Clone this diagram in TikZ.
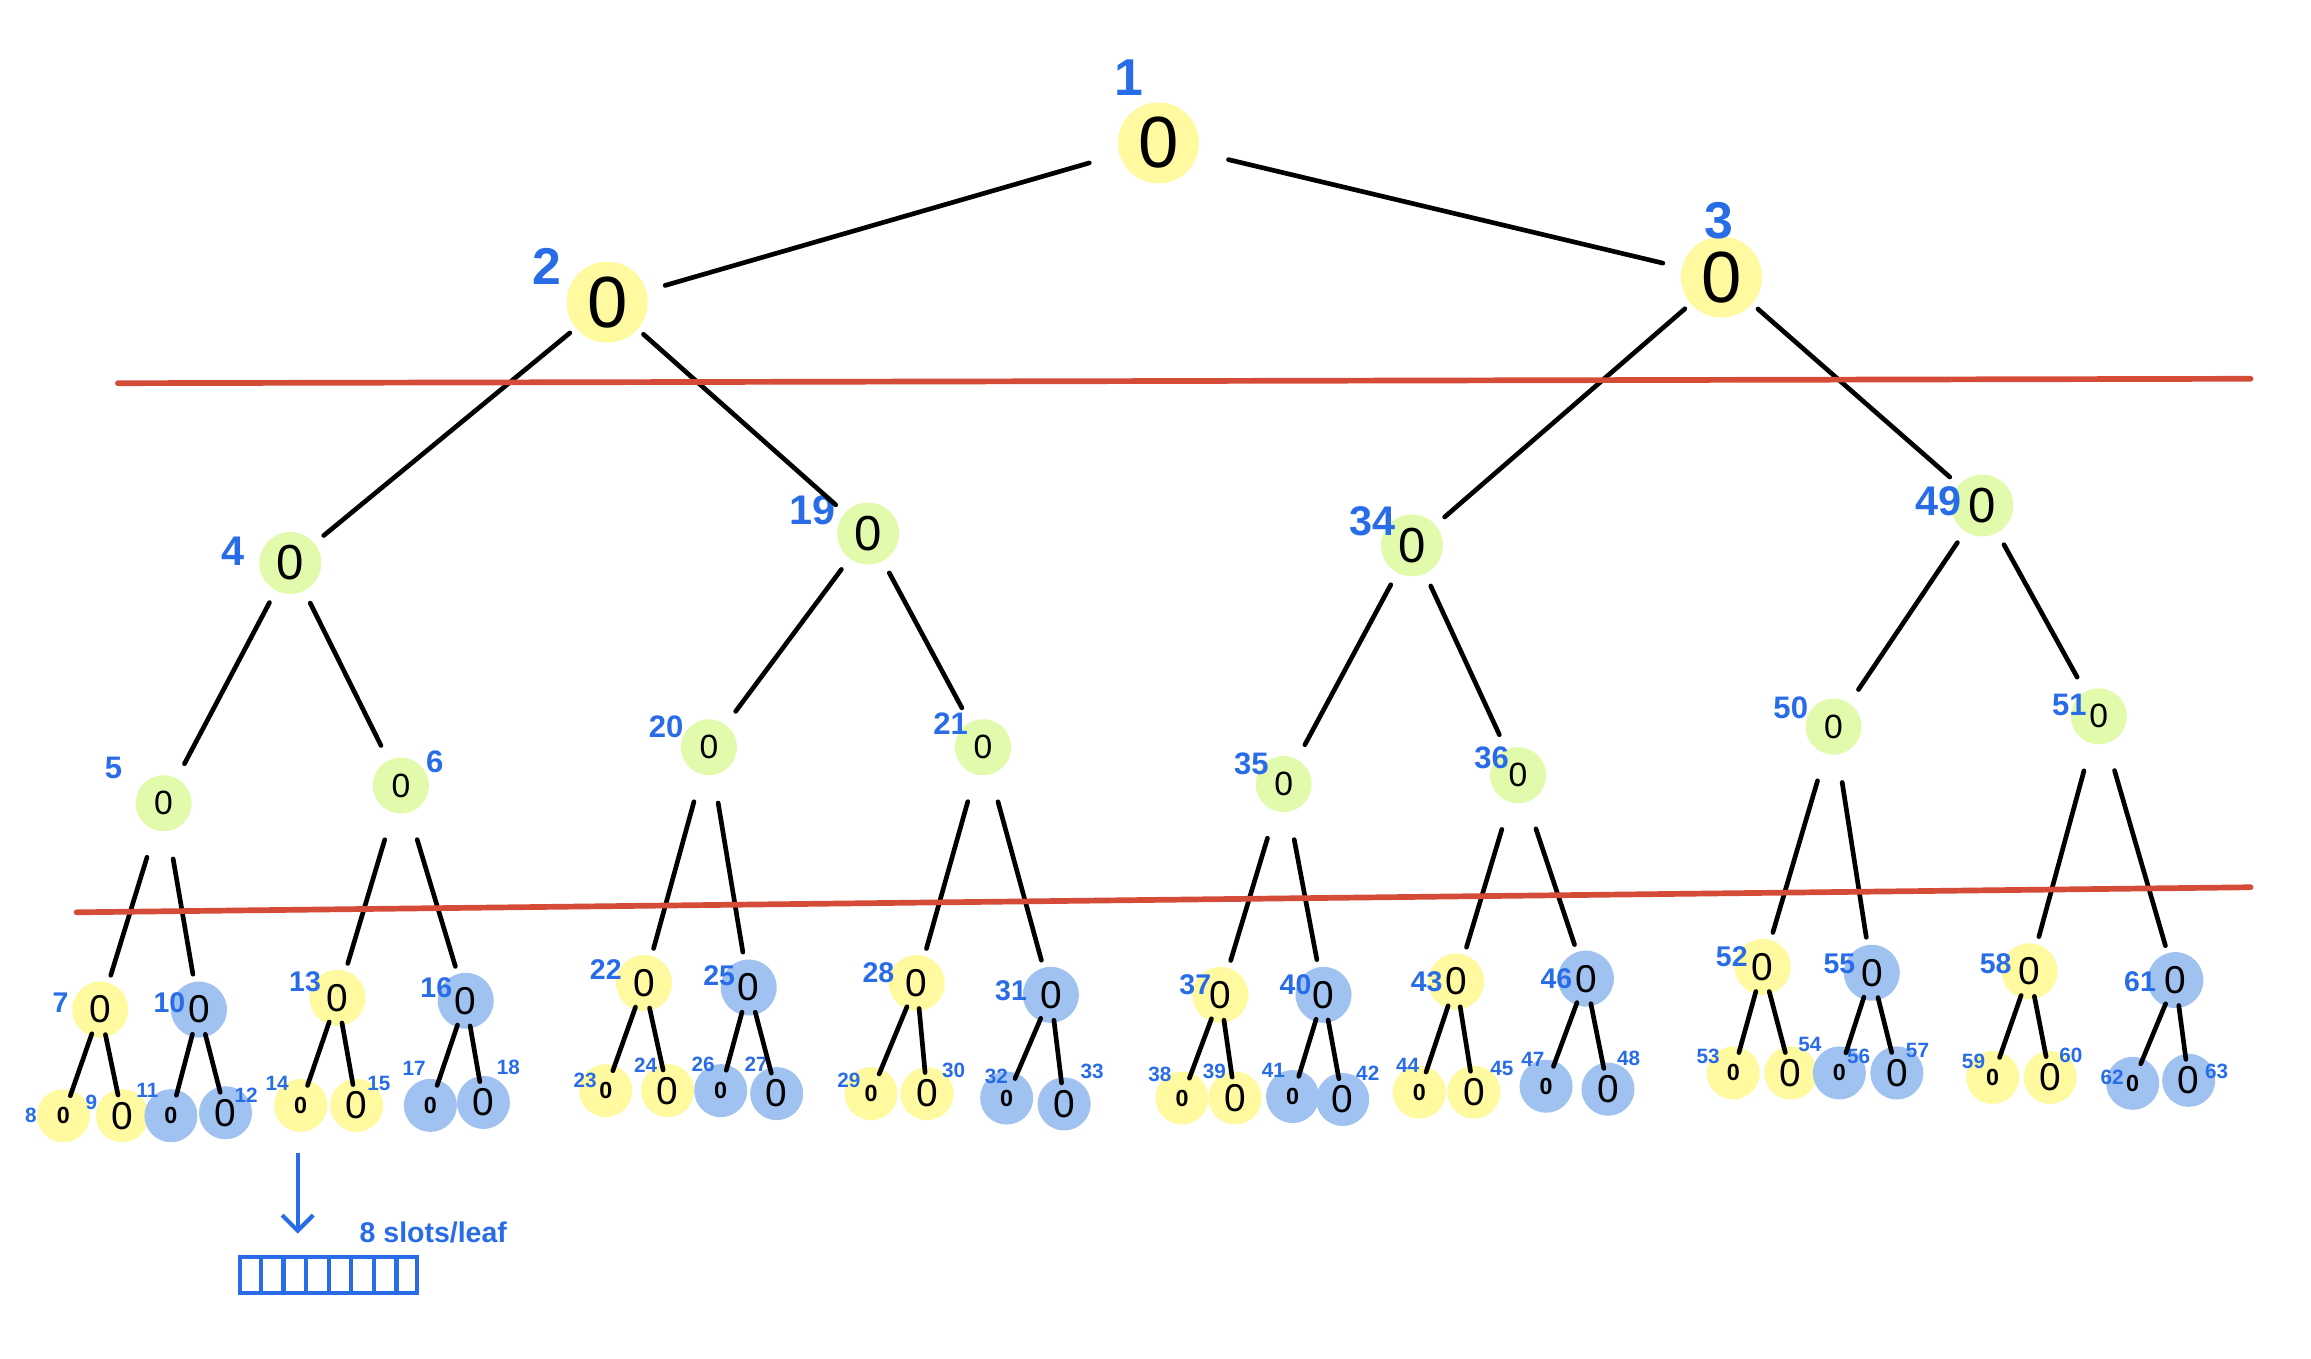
\documentclass[tikz,border=0pt]{standalone}
\usepackage{fontspec}
\setmainfont{Liberation Sans}
\usepackage{xcolor}
\definecolor{hlyellow}{RGB}{255,250,160}
\definecolor{hlgreen}{RGB}{226,250,172}
\definecolor{hlblue}{RGB}{160,194,240}
\definecolor{numblue}{RGB}{40,108,232}
\definecolor{cutred}{RGB}{212,76,56}
\usepackage{tikz}
\usetikzlibrary{arrows.meta, calc}

\begin{document}
\begin{tikzpicture}[x=0.02cm, y=-0.02cm,
  rootnode/.style={circle, fill=hlyellow, minimum size=1.1cm, inner sep=0pt, font=\fontsize{28}{28}\selectfont},
  midnode/.style={circle, fill=hlgreen, minimum size=0.84cm, inner sep=0pt, font=\fontsize{19}{19}\selectfont},
  lownode/.style={circle, fill=hlgreen, minimum size=0.76cm, inner sep=0pt, font=\fontsize{13}{13}\selectfont},
  subnode/.style={circle, minimum size=0.76cm, inner sep=0pt, font=\fontsize{15}{15}\selectfont},
  leafnode/.style={circle, minimum size=0.72cm, inner sep=0pt, font=\fontsize{15}{15}\selectfont},
  leafsmall/.style={leafnode, font=\fontsize{9}{9}\selectfont\bfseries},
  numbig/.style={text=numblue, font=\fontsize{20}{20}\selectfont\bfseries},
  nummid/.style={text=numblue, font=\fontsize{16}{16}\selectfont\bfseries},
  numlow/.style={text=numblue, font=\fontsize{12}{12}\selectfont\bfseries},
  numsub/.style={text=numblue, font=\fontsize{11}{11}\selectfont\bfseries},
  numleaf/.style={text=numblue, font=\fontsize{8}{8}\selectfont\bfseries},
  link/.style={line width=1.8pt, line cap=round},
  linkA/.style={link, shorten <=0.42cm, shorten >=0.26cm},
  linkB/.style={link, shorten <=0.1cm, shorten >=0.16cm},
  linkC/.style={link, shorten <=0.18cm, shorten >=0.22cm},
  linkD/.style={link, shorten <=0.38cm, shorten >=0.1cm},
  linkE/.style={link, shorten <=-0.04cm, shorten >=-0.08cm},
  cut/.style={draw=cutred, line width=2.2pt, line cap=round},
  slotpen/.style={draw=numblue, line width=1.6pt}
]
\useasboundingbox (0,0) rectangle (1568,922);

% Root and first split
\node[rootnode] (n1) at (786,97) {0};  \node[numbig] (t1) at (766,53) {1};
\node[rootnode] (n2) at (412,205) {0}; \node[numbig] (t2) at (371,181) {2};
\node[rootnode] (n3) at (1168,188) {0}; \node[numbig] (t3) at (1166,150) {3};

% Second level
\node[midnode] (n4) at (197,382) {0};  \node[nummid] (t4) at (158,374) {4};
\node[midnode] (n19) at (589,362) {0}; \node[nummid] (t19) at (551,346) {19};
\node[midnode] (n34) at (958,370) {0}; \node[nummid] (t34) at (931,354) {34};
\node[midnode] (n49) at (1345,343) {0}; \node[nummid] (t49) at (1315,340) {49};

% Third level
\node[lownode] (n5) at (111,545) {0};  \node[numlow] (t5) at (77,521) {5};
\node[lownode] (n6) at (272,533) {0};  \node[numlow] (t6) at (295,517) {6};
\node[lownode] (n20) at (481,507) {0}; \node[numlow] (t20) at (452,493) {20};
\node[lownode] (n21) at (667,507) {0}; \node[numlow] (t21) at (645,491) {21};
\node[lownode] (n35) at (871,532) {0}; \node[numlow] (t35) at (849,518) {35};
\node[lownode] (n36) at (1030,526) {0}; \node[numlow] (t36) at (1012,514) {36};
\node[lownode] (n50) at (1244,493) {0}; \node[numlow] (t50) at (1215,480) {50};
\node[lownode] (n51) at (1424,486) {0}; \node[numlow] (t51) at (1404,478) {51};

% Fourth level
\node[subnode, fill=hlyellow] (n7) at (68,685) {0};   \node[numsub] (t7) at (41,680) {7};
\node[subnode, fill=hlblue] (n10) at (135,685) {0};   \node[numsub] (t10) at (115,680) {10};
\node[subnode, fill=hlyellow] (n13) at (229,677) {0}; \node[numsub] (t13) at (207,666) {13};
\node[subnode, fill=hlblue] (n16) at (316,679) {0};   \node[numsub] (t16) at (296,670) {16};
\node[subnode, fill=hlyellow] (n22) at (437,667) {0}; \node[numsub] (t22) at (411,658) {22};
\node[subnode, fill=hlblue] (n25) at (508,670) {0};   \node[numsub] (t25) at (488,662) {25};
\node[subnode, fill=hlyellow] (n28) at (622,667) {0}; \node[numsub] (t28) at (596,660) {28};
\node[subnode, fill=hlblue] (n31) at (713,675) {0};   \node[numsub] (t31) at (686,672) {31};
\node[subnode, fill=hlyellow] (n37) at (828,675) {0}; \node[numsub] (t37) at (811,668) {37};
\node[subnode, fill=hlblue] (n40) at (898,675) {0};   \node[numsub] (t40) at (879,668) {40};
\node[subnode, fill=hlyellow] (n43) at (988,666) {0}; \node[numsub] (t43) at (968,666) {43};
\node[subnode, fill=hlblue] (n46) at (1076,664) {0};  \node[numsub] (t46) at (1056,664) {46};
\node[subnode, fill=hlyellow] (n52) at (1196,656) {0}; \node[numsub] (t52) at (1175,649) {52};
\node[subnode, fill=hlblue] (n55) at (1270,660) {0};  \node[numsub] (t55) at (1248,654) {55};
\node[subnode, fill=hlyellow] (n58) at (1377,659) {0}; \node[numsub] (t58) at (1354,654) {58};
\node[subnode, fill=hlblue] (n61) at (1476,665) {0};  \node[numsub] (t61) at (1452,666) {61};

% Leaves
\node[leafsmall, fill=hlyellow] (n8) at (43,757) {0};  \node[numleaf] (t8) at (21,757) {8};
\node[leafnode, fill=hlyellow] (n9) at (83,757) {0};   \node[numleaf] (t9) at (62,748) {9};
\node[leafsmall, fill=hlblue] (n11) at (116,757) {0};  \node[numleaf] (t11) at (100,740) {11};
\node[leafnode, fill=hlblue] (n12) at (153,755) {0};   \node[numleaf] (t12) at (167,743) {12};
\node[leafsmall, fill=hlyellow] (n14) at (204,750) {0}; \node[numleaf] (t14) at (188,735) {14};
\node[leafnode, fill=hlyellow] (n15) at (242,750) {0}; \node[numleaf] (t15) at (257,735) {15};
\node[leafsmall, fill=hlblue] (n17) at (292,750) {0};  \node[numleaf] (t17) at (281,725) {17};
\node[leafnode, fill=hlblue] (n18) at (328,748) {0};   \node[numleaf] (t18) at (345,724) {18};
\node[leafsmall, fill=hlyellow] (n23) at (411,740) {0}; \node[numleaf] (t23) at (397,733) {23};
\node[leafnode, fill=hlyellow] (n24) at (453,740) {0}; \node[numleaf] (t24) at (438,723) {24};
\node[leafsmall, fill=hlblue] (n26) at (489,740) {0};  \node[numleaf] (t26) at (477,722) {26};
\node[leafnode, fill=hlblue] (n27) at (527,742) {0};   \node[numleaf] (t27) at (513,722) {27};
\node[leafsmall, fill=hlyellow] (n29) at (591,742) {0}; \node[numleaf] (t29) at (576,733) {29};
\node[leafnode, fill=hlyellow] (n30) at (629,742) {0}; \node[numleaf] (t30) at (647,726) {30};
\node[leafsmall, fill=hlblue] (n32) at (683,745) {0};  \node[numleaf] (t32) at (676,730) {32};
\node[leafnode, fill=hlblue] (n33) at (722,749) {0};   \node[numleaf] (t33) at (741,727) {33};
\node[leafsmall, fill=hlyellow] (n38) at (802,745) {0}; \node[numleaf] (t38) at (787,729) {38};
\node[leafnode, fill=hlyellow] (n39) at (838,745) {0}; \node[numleaf] (t39) at (824,727) {39};
\node[leafsmall, fill=hlblue] (n41) at (877,744) {0};  \node[numleaf] (t41) at (864,726) {41};
\node[leafnode, fill=hlblue] (n42) at (911,746) {0};   \node[numleaf] (t42) at (928,728) {42};
\node[leafsmall, fill=hlyellow] (n44) at (963,741) {0}; \node[numleaf] (t44) at (955,723) {44};
\node[leafnode, fill=hlyellow] (n45) at (1000,741) {0}; \node[numleaf] (t45) at (1019,725) {45};
\node[leafsmall, fill=hlblue] (n47) at (1049,737) {0}; \node[numleaf] (t47) at (1040,719) {47};
\node[leafnode, fill=hlblue] (n48) at (1091,739) {0};  \node[numleaf] (t48) at (1105,718) {48};
\node[leafsmall, fill=hlyellow] (n53) at (1176,728) {0}; \node[numleaf] (t53) at (1159,717) {53};
\node[leafnode, fill=hlyellow] (n54) at (1215,728) {0}; \node[numleaf] (t54) at (1228,709) {54};
\node[leafsmall, fill=hlblue] (n56) at (1248,728) {0}; \node[numleaf] (t56) at (1261,717) {56};
\node[leafnode, fill=hlblue] (n57) at (1287,728) {0};  \node[numleaf] (t57) at (1301,713) {57};
\node[leafsmall, fill=hlyellow] (n59) at (1352,731) {0}; \node[numleaf] (t59) at (1339,720) {59};
\node[leafnode, fill=hlyellow] (n60) at (1391,731) {0}; \node[numleaf] (t60) at (1405,716) {60};
\node[leafsmall, fill=hlblue] (n62) at (1447,735) {0}; \node[numleaf] (t62) at (1433,731) {62};
\node[leafnode, fill=hlblue] (n63) at (1485,733) {0};  \node[numleaf] (t63) at (1504,727) {63};

% Edges
\draw[linkA] (n1) -- (n2);  \draw[linkA] (n1) -- (n3);
\draw[linkB] (n2) -- (n4);  \draw[linkB] (n2) -- (n19);
\draw[linkB] (n3) -- (n34); \draw[linkB] (n3) -- (n49);
\draw[linkC] (n4) -- (n5);  \draw[linkC] (n4) -- (n6);
\draw[linkC] (n19) -- (n20); \draw[linkC] (n19) -- (n21);
\draw[linkC] (n34) -- (n35); \draw[linkC] (n34) -- (n36);
\draw[linkC] (n49) -- (n50); \draw[linkC] (n49) -- (n51);
\draw[linkD] (n5) -- (n7);  \draw[linkD] (n5) -- (n10);
\draw[linkD] (n6) -- (n13); \draw[linkD] (n6) -- (n16);
\draw[linkD] (n20) -- (n22); \draw[linkD] (n20) -- (n25);
\draw[linkD] (n21) -- (n28); \draw[linkD] (n21) -- (n31);
\draw[linkD] (n35) -- (n37); \draw[linkD] (n35) -- (n40);
\draw[linkD] (n36) -- (n43); \draw[linkD] (n36) -- (n46);
\draw[linkD] (n50) -- (n52); \draw[linkD] (n50) -- (n55);
\draw[linkD] (n51) -- (n58); \draw[linkD] (n51) -- (n61);
\draw[linkE] (n7) -- (n8);   \draw[linkE] (n7) -- (n9);
\draw[linkE] (n10) -- (n11); \draw[linkE] (n10) -- (n12);
\draw[linkE] (n13) -- (n14); \draw[linkE] (n13) -- (n15);
\draw[linkE] (n16) -- (n17); \draw[linkE] (n16) -- (n18);
\draw[linkE] (n22) -- (n23); \draw[linkE] (n22) -- (n24);
\draw[linkE] (n25) -- (n26); \draw[linkE] (n25) -- (n27);
\draw[linkE] (n28) -- (n29); \draw[linkE] (n28) -- (n30);
\draw[linkE] (n31) -- (n32); \draw[linkE] (n31) -- (n33);
\draw[linkE] (n37) -- (n38); \draw[linkE] (n37) -- (n39);
\draw[linkE] (n40) -- (n41); \draw[linkE] (n40) -- (n42);
\draw[linkE] (n43) -- (n44); \draw[linkE] (n43) -- (n45);
\draw[linkE] (n46) -- (n47); \draw[linkE] (n46) -- (n48);
\draw[linkE] (n52) -- (n53); \draw[linkE] (n52) -- (n54);
\draw[linkE] (n55) -- (n56); \draw[linkE] (n55) -- (n57);
\draw[linkE] (n58) -- (n59); \draw[linkE] (n58) -- (n60);
\draw[linkE] (n61) -- (n62); \draw[linkE] (n61) -- (n63);

% Cut lines
\draw[cut] (80,260) -- (1527,257);
\draw[cut] (52,619) -- (1527,602);

% Leaf slots
\node[slotpen, minimum width=2.4cm, minimum height=0.48cm, inner sep=0pt] (slots) at (223,865) {};
\foreach \i in {1,...,7}
  \draw[slotpen] ($(slots.north west)!\i/8!(slots.north east)$) -- ($(slots.south west)!\i/8!(slots.south east)$);
\node[text=numblue, font=\fontsize{11}{11}\selectfont\bfseries] (slotnote) at (294,836) {8 slots/leaf};
\coordinate (arrtop) at (202,782);
\coordinate (arrtip) at (202,837);
\draw[draw=numblue, line width=1.6pt, -{Straight Barb[length=6pt, width=12pt]}] (arrtop) -- (arrtip);

\end{tikzpicture}
\end{document}
